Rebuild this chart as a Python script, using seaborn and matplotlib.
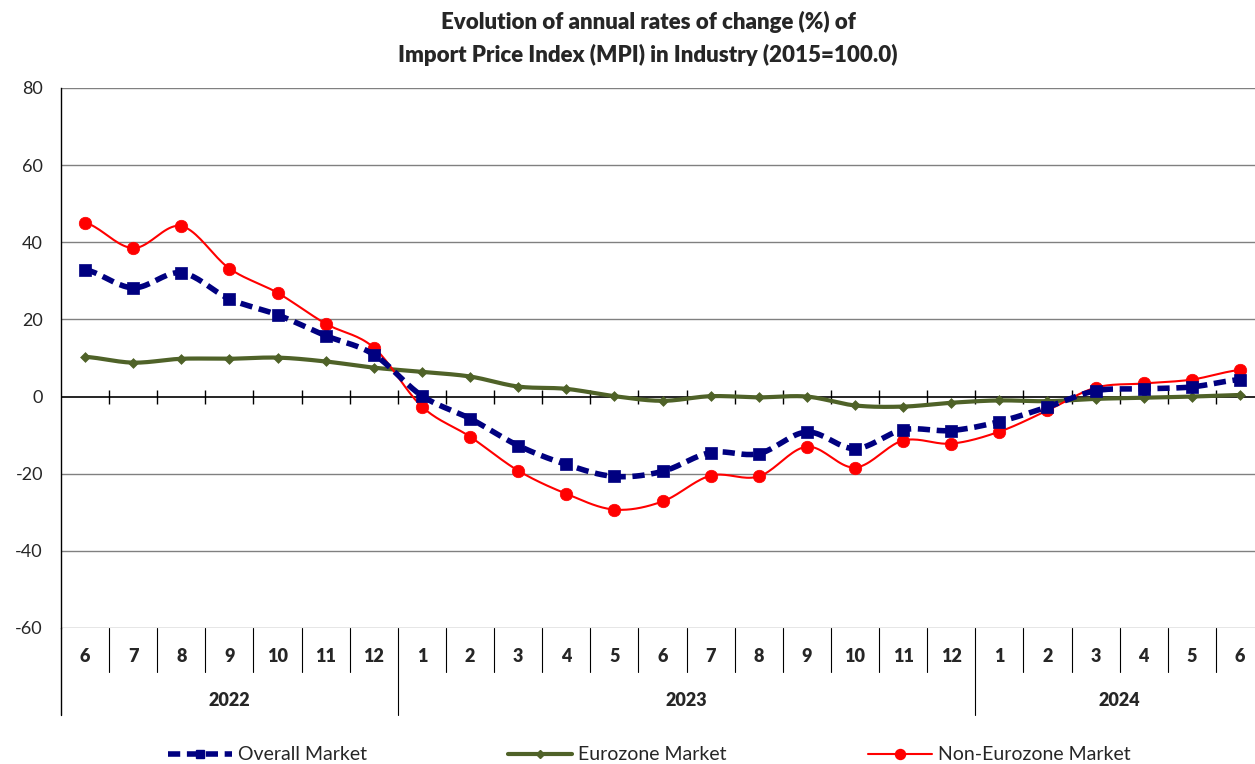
import numpy as np
import pandas as pd
import matplotlib
matplotlib.use("Agg")
import matplotlib.pyplot as plt
import seaborn as sns

months = ["6", "7", "8", "9", "10", "11", "12",
          "1", "2", "3", "4", "5", "6", "7", "8", "9", "10", "11", "12",
          "1", "2", "3", "4", "5", "6"]
years = ["2022", "2023", "2024"]
year_span = [(0, 6), (7, 18), (19, 24)]

overall = [32.9, 28.2, 32.1, 25.3, 21.2, 15.8, 10.9, 0.2, -5.7, -12.7, -17.6, -20.7,
           -19.4, -14.5, -14.8, -9.2, -13.5, -8.6, -8.8, -6.5, -2.7, 1.5, 2.0, 2.5, 4.4]
eurozone = [10.3, 8.8, 9.8, 9.8, 10.1, 9.1, 7.5, 6.4, 5.2, 2.6, 2.0, 0.1,
            -1.1, 0.1, -0.2, 0.0, -2.3, -2.6, -1.6, -1.0, -1.2, -0.6, -0.3, 0.0, 0.4]
non_eurozone = [45.1, 38.5, 44.2, 33.2, 26.9, 18.9, 12.7, -2.6, -10.4, -19.2, -25.2, -29.3,
                -27.2, -20.5, -20.7, -13.0, -18.4, -11.4, -12.2, -9.1, -3.6, 2.3, 3.4, 4.4, 6.9]

series = {"Overall Market": overall, "Eurozone Market": eurozone,
          "Non-Eurozone Market": non_eurozone}
styles = {
    "Overall Market": dict(color="#000080", lw=4, ls=(0, (2.2, 1.2)), marker="s", ms=8),
    "Eurozone Market": dict(color="#4F6228", lw=3, ls="-", marker="D", ms=5),
    "Non-Eurozone Market": dict(color="#FF0000", lw=1.5, ls="-", marker="o", ms=9),
}
legend_x = {"Overall Market": 168, "Eurozone Market": 508, "Non-Eurozone Market": 868}


def suavizar(x, y, n=20):
    # curva tipo Catmull-Rom para imitar las lineas suavizadas de Excel
    x = np.asarray(x, float)
    y = np.asarray(y, float)
    xs, ys = [], []
    for i in range(len(x) - 1):
        p0 = y[i - 1] if i > 0 else y[i]
        p3 = y[i + 2] if i + 2 < len(y) else y[i + 1]
        p1, p2 = y[i], y[i + 1]
        t = np.linspace(0, 1, n, endpoint=False)
        yy = 0.5 * ((2 * p1) + (-p0 + p2) * t + (2 * p0 - 5 * p1 + 4 * p2 - p3) * t ** 2
                    + (-p0 + 3 * p1 - 3 * p2 + p3) * t ** 3)
        xs.append(x[i] + t * (x[i + 1] - x[i]))
        ys.append(yy)
    xs.append([x[-1]])
    ys.append([y[-1]])
    return np.concatenate(xs), np.concatenate(ys)


sns.set_style("white")
plt.rcParams['font.family'] = ['Lato', 'DejaVu Sans']

fig = plt.figure(figsize=(12.55, 7.64), dpi=100)
# el area de trazado sigue un poco mas alla del borde derecho, como en el original
ax = fig.add_axes([61 / 1255, 136 / 764, 1203 / 1255, 540 / 764])

x = np.arange(len(months))
df = pd.DataFrame({"x": x, **series})

for nombre in ["Eurozone Market", "Non-Eurozone Market", "Overall Market"]:
    st = styles[nombre]
    z = 4 if nombre == "Overall Market" else 3
    xs, ys = suavizar(df["x"], df[nombre])
    sns.lineplot(x=xs, y=ys, ax=ax, color=st["color"], lw=st["lw"], linestyle=st["ls"],
                 sort=False, estimator=None, zorder=z)
    sns.scatterplot(data=df, x="x", y=nombre, ax=ax, color=st["color"], marker=st["marker"],
                    s=st["ms"] ** 2, edgecolor=st["color"], linewidth=0.5, zorder=z)

ax.set_xlim(-0.5, len(months) - 0.5)
ax.set_ylim(-60, 80)
ax.set_yticks(range(-60, 81, 20))
ax.set_yticklabels([str(v) for v in range(-60, 81, 20)], fontsize=13)
ax.tick_params(axis="y", length=5, width=1, color="black", direction="out", pad=8)
ax.set_xticks([])
ax.set_xlabel("")
ax.set_ylabel("")
for v in range(-60, 81, 20):
    if v != 0:
        ax.axhline(v, color="#808080", lw=1, zorder=1)
ax.axhline(0, color="black", lw=1.2, zorder=2)
ax.vlines(np.arange(0.5, len(months) - 0.5), -1.8, 1.8, color="black", lw=1, zorder=2)
for s in ["top", "right", "bottom"]:
    ax.spines[s].set_visible(False)
ax.spines["left"].set_color("black")
ax.spines["left"].set_linewidth(1)

# eje de categorias de dos niveles debajo del grafico
trans = ax.get_xaxis_transform()
for i, m in enumerate(months):
    ax.text(i, -29 / 540, m, transform=trans, ha="center", va="center",
            fontsize=13, fontweight="heavy")
for b in np.arange(0.5, len(months) - 0.5):
    bajo = -87 / 540 if b in (6.5, 18.5) else -44 / 540
    ax.plot([b, b], [0, bajo], transform=trans, color="black", lw=0.8, clip_on=False)
ax.plot([-0.5, -0.5], [0, -87 / 540], transform=trans, color="black", lw=1, clip_on=False)
for y_, (a, b) in zip(years, year_span):
    ax.text((a + b) / 2, -72 / 540, y_, transform=trans, ha="center", va="center",
            fontsize=13, fontweight="heavy")

fig.text(648 / 1255, 1 - 22 / 764, "Evolution of annual rates of change (%) of",
         ha="center", va="center", fontsize=16, fontweight="heavy")
fig.text(648 / 1255, 1 - 55 / 764, "Import Price Index (MPI) in Industry (2015=100.0)",
         ha="center", va="center", fontsize=16, fontweight="heavy")

for nombre in series:
    st = styles[nombre]
    h, = ax.plot([], [], color=st["color"], lw=st["lw"], linestyle=st["ls"],
                 marker=st["marker"], ms=st["ms"] * 0.8)
    fig.legend([h], [nombre], loc="center left",
               bbox_to_anchor=(legend_x[nombre] / 1255, 1 - 755 / 764),
               frameon=False, fontsize=14, handlelength=3.3, borderpad=0,
               borderaxespad=0, handletextpad=0.3)

fig.savefig("out.png", dpi=100)
